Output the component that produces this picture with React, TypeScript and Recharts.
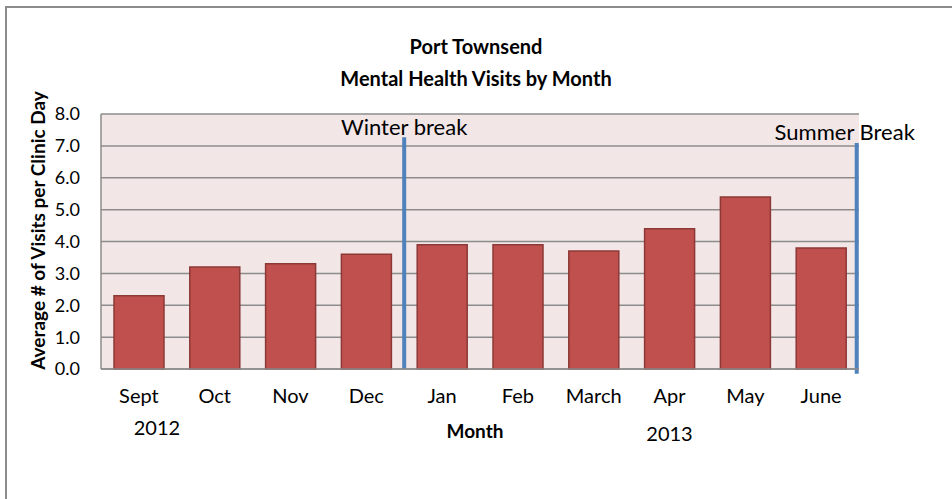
import React from 'react';
import { BarChart, Bar, XAxis, YAxis, CartesianGrid, ReferenceLine } from 'recharts';

const months = ['Sept', 'Oct', 'Nov', 'Dec', 'Jan', 'Feb', 'March', 'Apr', 'May', 'June'];
const visits = [2.3, 3.2, 3.3, 3.6, 3.9, 3.9, 3.7, 4.4, 5.4, 3.8];
const yearLabels: Record<string, string> = { Sept: '2012', Apr: '2013' };
const yTicks = [0, 1, 2, 3, 4, 5, 6, 7, 8];

const data = months.map((m, i) => ({ month: m, visits: visits[i], pos: i }));

const FONT = 'Lato, "Noto Sans", sans-serif';

const YearTick = (props: any) => {
  const { x, y, payload } = props;
  const label = yearLabels[payload.value];
  if (!label) return null;
  const dx = payload.value === 'Sept' ? 18 : 0;
  const dy = payload.value === 'Sept' ? -2 : 4;
  return (
    <text x={x + dx} y={y + dy} textAnchor="middle" fontSize={20} fontFamily={FONT} fill="#000">
      {label}
    </text>
  );
};

export default function App() {
  return (
    <div style={{ position: 'absolute', left: 0, top: 0, width: 952, height: 499, background: '#fff', fontFamily: FONT }}>
      <div style={{ position: 'absolute', left: 5, top: 6, right: 0, bottom: 0, borderLeft: '2px solid #8c8c8c', borderTop: '2px solid #8c8c8c' }} />
      <div style={{ position: 'absolute', left: 0, top: 30, width: 952, textAlign: 'center', fontWeight: 'bold', fontSize: 20, lineHeight: '32px', color: '#000' }}>
        Port Townsend<br />Mental Health Visits by Month
      </div>
      <div style={{ position: 'absolute', left: 0, top: 0 }}>
        <BarChart width={952} height={499} data={data} margin={{ top: 114, right: 93, bottom: 60, left: 0 }}>
          <CartesianGrid vertical={false} fill="#f2e6e6" stroke="#8c8c8c" strokeWidth={1.5} />
          <XAxis
            dataKey="month"
            height={30}
            tickLine={false}
            tickMargin={14}
            axisLine={{ stroke: '#8c8c8c', strokeWidth: 1.5 }}
            tick={{ fontSize: 20, fontFamily: FONT, fill: '#000' }}
            interval={0}
          />
          <XAxis
            xAxisId="year"
            dataKey="month"
            height={40}
            axisLine={false}
            tickLine={false}
            tick={<YearTick />}
            interval={0}
            label={{ value: 'Month', position: 'insideTop', offset: -4, fontSize: 19, fontWeight: 'bold', fontFamily: FONT, fill: '#000', dx: -5 }}
          />
          <XAxis xAxisId="num" type="number" dataKey="pos" domain={[0, 10]} hide />
          <YAxis
            width={101}
            domain={[0, 8]}
            ticks={yTicks}
            tickFormatter={(v: number) => v.toFixed(1)}
            tickLine={false}
            tickSize={0}
            tickMargin={21}
            axisLine={{ stroke: '#8c8c8c', strokeWidth: 1.5 }}
            tick={{ fontSize: 18, fontFamily: FONT, fill: '#000' }}
            label={{ value: 'Average # of Visits per Clinic Day', angle: -90, position: 'center', dx: -12, dy: -11, fontSize: 19, fontWeight: 'bold', fontFamily: FONT, fill: '#000' }}
          />
          <Bar dataKey="visits" fill="#c0504d" stroke="#8c3836" strokeWidth={1.5} barSize={50} isAnimationActive={false} />
          <ReferenceLine
            xAxisId="num"
            segment={[{ x: 4, y: 0 }, { x: 4, y: 7.27 }]}
            stroke="#4f81bd"
            strokeWidth={4}
            ifOverflow="visible"
            label={{ value: 'Winter break', position: 'top', offset: 2, fontSize: 22, fontFamily: FONT, fill: '#000' }}
          />
          <ReferenceLine
            xAxisId="num"
            segment={[{ x: 9.97, y: -0.15 }, { x: 9.97, y: 7.09 }]}
            stroke="#4f81bd"
            strokeWidth={4}
            ifOverflow="visible"
            label={{ value: 'Summer Break', position: 'top', offset: 3, dx: -12, fontSize: 22, fontFamily: FONT, fill: '#000' }}
          />
        </BarChart>
      </div>
    </div>
  );
}
